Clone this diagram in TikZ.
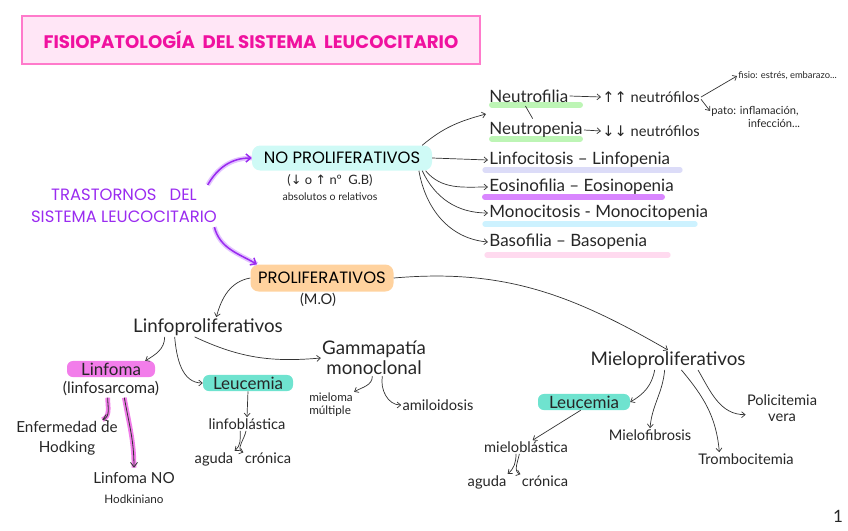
\documentclass[tikz,border=0pt]{standalone}
\usepackage{fontspec}
\setmainfont{Lato}
\newfontfamily\capsfont{Poppins}
\newfontfamily\symfont{DejaVu Sans}
\usetikzlibrary{positioning,arrows.meta}
\definecolor{titleline}{HTML}{FF7ACB}
\definecolor{titlefill}{HTML}{FFE6F6}
\definecolor{titletext}{HTML}{F0119F}
\definecolor{violet}{HTML}{9A2BF0}
\definecolor{violetglow}{HTML}{E3C4FF}
\definecolor{cyanbox}{HTML}{CFFAF6}
\definecolor{orangebox}{HTML}{FFD29E}
\definecolor{magentahl}{HTML}{F27DEA}
\definecolor{tealhl}{HTML}{6FE3CF}
\definecolor{ulgreen}{HTML}{BDF5B5}
\definecolor{ullavender}{HTML}{DCDCF8}
\definecolor{ulpurple}{HTML}{D986FF}
\definecolor{ulblue}{HTML}{CDF2FF}
\definecolor{ulpink}{HTML}{FFDAEF}

\begin{document}
\begin{tikzpicture}[x=0.3mm,y=-0.3mm,
  txt/.style={font=\fontsize{14.5}{15}\selectfont, inner sep=1pt, text=black!85},
  sub/.style={font=\fontsize{12.5}{13.5}\selectfont, inner sep=1pt, text=black!85, align=center},
  tiny/.style={font=\fontsize{8}{9}\selectfont, inner sep=1pt, text=black!85, align=left},
  capsbox/.style={font=\capsfont\fontsize{14}{15}\selectfont, rounded corners=7pt, inner sep=2pt},
  hl/.style={txt, fill=#1, rounded corners=5pt, inner sep=1.5pt},
  conn/.style={-{Straight Barb[length=3pt,width=5pt]}, black!80, line width=0.6pt},
  purplearrow/.style={-{Straight Barb[length=4pt,width=7pt]}, violet, line width=1.3pt,
    preaction={draw, violetglow, line width=4pt, -}},
  pinkarrow/.style={-{Straight Barb[length=4pt,width=6pt]}, black!80, line width=0.7pt,
    preaction={draw, magentahl, line width=4pt, -}}]
\useasboundingbox (0,0) rectangle (848,530);

% title
\node[draw=titleline, line width=2.5pt, fill=titlefill, minimum width=137.4mm, minimum height=14.4mm,
  font=\capsfont\bfseries\fontsize{15.5}{16}\selectfont, text=titletext] (title) at (251,40)
  {FISIOPATOLOGÍA \ DEL SISTEMA \ LEUCOCITARIO};

% main blocks
\node[font=\capsfont\fontsize{14}{19}\selectfont, text=violet, align=center] (tras) at (124,206)
  {TRASTORNOS \ \ DEL\\SISTEMA LEUCOCITARIO};
\node[capsbox, fill=cyanbox, minimum width=54mm, minimum height=7.5mm] (nopro) at (342,158) {NO PROLIFERATIVOS};
\node[sub, font=\fontsize{11}{12}\selectfont] (gb) at (330,180) {(\symfont↓\normalfont{} o \symfont↑\normalfont{} nº \ G.B)};
\node[tiny, font=\fontsize{9}{10}\selectfont] (absrel) at (330,197) {absolutos o relativos};
\node[capsbox, fill=orangebox, minimum width=42.9mm, minimum height=8.1mm] (pro) at (322,278) {PROLIFERATIVOS};
\node[sub] (mo) at (318,300) {(M.O)};

\draw[purplearrow] ([xshift=-4mm]tras.north east) to[out=60,in=180] (nopro.west);
\draw[purplearrow] ([xshift=-2mm]tras.south east) to[out=-75,in=150] ([xshift=2mm]pro.north west);

% no proliferativos
\draw[line width=1.8mm, ulgreen, line cap=round] (492,105) -- (580,105);
\draw[line width=1.8mm, ulgreen, line cap=round] (492,139) -- (580,139);
\draw[line width=1.6mm, ullavender, line cap=round] (485,170) -- (680,170);
\draw[line width=1.8mm, ulpurple, line cap=round] (485,197) -- (662,197);
\draw[line width=1.6mm, ulblue, line cap=round] (485,224) -- (695,224);
\draw[line width=1.6mm, ulpink, line cap=round] (487,255) -- (668,255);

\node[txt, anchor=west] (neutrofilia) at (488,96) {Neutrofilia};
\node[txt, anchor=west] (neutropenia) at (488,130) {Neutropenia};
\node[txt, anchor=west, font=\fontsize{12.5}{13}\selectfont] (nup) at (601,97) {\symfont↑↑\normalfont{} neutrófilos};
\node[txt, anchor=west, font=\fontsize{12.5}{13}\selectfont] (ndown) at (601,131) {\symfont↓↓\normalfont{} neutrófilos};
\node[tiny, anchor=west] (fisio) at (737,76) {fisio: estrés, embarazo...};
\node[tiny, anchor=west, font=\fontsize{9.5}{11}\selectfont] (pato) at (710,117) {pato: inflamación,\\ \hspace{11mm}infección...};
\node[txt, anchor=west] (linfoc) at (488,160) {Linfocitosis -- Linfopenia};
\node[txt, anchor=west] (eosino) at (488,187) {Eosinofilia -- Eosinopenia};
\node[txt, anchor=west] (mono) at (488,213) {Monocitosis - Monocitopenia};
\node[txt, anchor=west] (baso) at (488,242) {Basofilia -- Basopenia};
\coordinate (neutro) at (486,114);

\draw[black!80, line width=0.6pt] ([xshift=-1mm,yshift=-2pt]neutrofilia.south) -- ([xshift=-1mm,yshift=2pt]neutropenia.north);
\draw[conn] (neutrofilia.east) -- (nup.west);
\draw[conn] (neutropenia.east) -- (ndown.west);
\draw[conn] (nup.east) -- (fisio.west);
\draw[conn] ([yshift=-2pt]nup.east) -- ([yshift=-5pt]pato.north west);

\draw[conn] ([xshift=-3mm]nopro.north east) to[out=40,in=195] (neutro);
\draw[conn] (nopro.east) -- (linfoc.west);
\draw[conn] ([xshift=-2mm]nopro.south east) to[out=-50,in=180] (eosino.west);
\draw[conn] ([xshift=-3mm]nopro.south east) to[out=-65,in=180] (mono.west);
\draw[conn] ([xshift=-4mm]nopro.south east) to[out=-80,in=175] (baso.west);

% linfoproliferativos
\node[txt, font=\fontsize{16}{17}\selectfont] (linfo) at (208,327) {Linfoproliferativos};
\node[hl=magentahl, minimum width=26.4mm] (linfoma) at (111,369) {Linfoma};
\node[sub, font=\fontsize{13.5}{14}\selectfont] (sarcoma) at (111,389) {(linfosarcoma)};
\node[sub, font=\fontsize{13}{17}\selectfont] (hodking) at (67,438) {Enfermedad de\\Hodking};
\node[sub, font=\fontsize{13}{17}\selectfont] (nohodking) at (134,488) {Linfoma NO\\{\fontsize{10}{10}\selectfont Hodkiniano}};
\node[hl=tealhl, minimum width=27mm] (leuca) at (248,383) {Leucemia};
\node[sub] (linfob) at (247,424) {linfoblástica};
\node[sub] (agudaa) at (214,459) {aguda};
\node[sub] (cronicaa) at (268,458) {crónica};
\node[sub, font=\fontsize{16}{17}\selectfont] (gamma) at (374,358) {Gammapatía\\monoclonal};
\node[tiny, font=\fontsize{10}{11}\selectfont] (mieloma) at (331,405) {mieloma\\múltiple};
\node[sub] (amilo) at (438,405) {amiloidosis};

\draw[conn] ([xshift=-13mm]linfo.south) to[out=-90,in=30] ([xshift=-3mm]linfoma.north east);
\draw[conn] ([xshift=-10mm]linfo.south) to[out=-85,in=180] (leuca.west);
\draw[conn] ([xshift=-4mm]linfo.south) to[out=-25,in=185] (gamma.west);
\draw[pinkarrow] ([xshift=-1mm]sarcoma.south) to[out=-90,in=20] ([xshift=-5mm]hodking.north east);
\draw[pinkarrow] ([xshift=4mm]sarcoma.south) to[out=-80,in=90] ([yshift=1mm]nohodking.north);
\draw[conn] (leuca.south) -- (linfob.north);
\draw[conn] ([xshift=-2mm]linfob.south) to[out=-90,in=40] (agudaa.north east);
\draw[conn] ([xshift=-0.3mm]linfob.south) to[out=-100,in=160] ([yshift=-1pt]cronicaa.north west);
\draw[conn] ([xshift=-0.5mm]gamma.south) to[out=-90,in=30] (mieloma.north east);
\draw[conn] ([xshift=2.5mm]gamma.south) to[out=-100,in=180] (amilo.west);

% mieloproliferativos
\node[txt, font=\fontsize{16}{17}\selectfont] (mielo) at (668,360) {Mieloproliferativos};
\node[hl=tealhl, minimum width=27.6mm] (leucb) at (584,402) {Leucemia};
\node[sub] (mielob) at (526,447) {mieloblástica};
\node[sub] (agudab) at (487,482) {aguda};
\node[sub] (cronicab) at (545,481) {crónica};
\node[sub] (fibro) at (650,435) {Mielofibrosis};
\node[sub] (trombo) at (746,459) {Trombocitemia};
\node[sub] (polici) at (782,408) {Policitemia\\vera};

\draw[conn] ([xshift=-4mm]mielo.south) to[out=-100,in=30] (leucb.east);
\draw[conn] ([xshift=-1mm]mielo.south) to[out=-95,in=85] (fibro.north);
\draw[conn] ([xshift=4mm]mielo.south) to[out=-50,in=95] ([xshift=-8mm]trombo.north);
\draw[conn] ([xshift=9mm]mielo.south) to[out=-60,in=180] ([yshift=-2mm]polici.west);
\draw[conn] ([xshift=-1mm]leucb.south) -- ([xshift=2mm]mielob.north);
\draw[conn] ([xshift=-3mm]mielob.south) to[out=-90,in=40] (agudab.north east);
\draw[conn] ([xshift=-2mm]mielob.south) to[out=-100,in=160] (cronicab.north west);

\draw[conn] (pro.west) to[out=190,in=75] ([xshift=2.5mm]linfo.north);
\draw[conn] (pro.east) to[out=5,in=150] (mielo.north);

\node[txt] (page) at (838,516) {1};
\end{tikzpicture}
\end{document}
